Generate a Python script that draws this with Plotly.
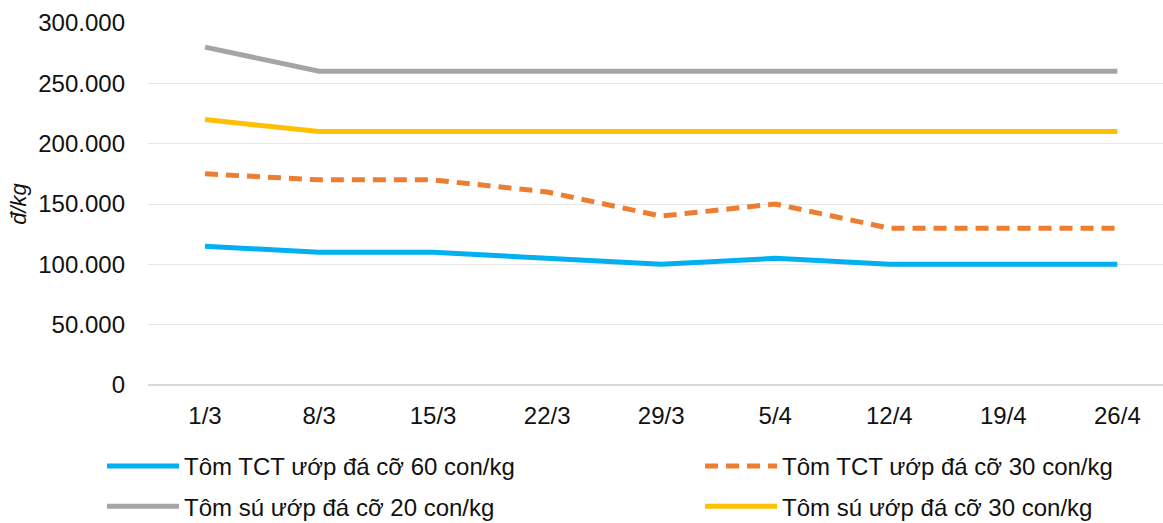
import plotly.graph_objects as go

categories = ["1/3", "8/3", "15/3", "22/3", "29/3", "5/4", "12/4", "19/4", "26/4"]
tct60 = [115000, 110000, 110000, 105000, 100000, 105000, 100000, 100000, 100000]
tct30 = [175000, 170000, 170000, 160000, 140000, 150000, 130000, 130000, 130000]
su20 = [280000, 260000, 260000, 260000, 260000, 260000, 260000, 260000, 260000]
su30 = [220000, 210000, 210000, 210000, 210000, 210000, 210000, 210000, 210000]
y_ticks = [0, 50000, 100000, 150000, 200000, 250000, 300000]
y_tick_labels = ["0", "50.000", "100.000", "150.000", "200.000", "250.000", "300.000"]

x = list(range(len(categories)))
fig = go.Figure()
fig.add_trace(go.Scatter(x=x, y=tct60, mode="lines", name="Tôm TCT ướp đá cỡ 60 con/kg",
                         line=dict(color="#00B0F0", width=5), legend="legend", legendgroup="a"))
fig.add_trace(go.Scatter(x=x, y=tct30, mode="lines", name="Tôm TCT ướp đá cỡ 30 con/kg",
                         line=dict(color="#ED7D31", width=5, dash="13px,8px"), legend="legend2", legendgroup="b"))
fig.add_trace(go.Scatter(x=x, y=su20, mode="lines", name="Tôm sú ướp đá cỡ 20 con/kg",
                         line=dict(color="#A5A5A5", width=5), legend="legend", legendgroup="c"))
fig.add_trace(go.Scatter(x=x, y=su30, mode="lines", name="Tôm sú ướp đá cỡ 30 con/kg",
                         line=dict(color="#FFC000", width=5), legend="legend2", legendgroup="d"))

font = "Liberation Sans, Arial, sans-serif"
leg_common = dict(orientation="v", yanchor="top", xanchor="left", y=-0.163,
                  tracegroupgap=6, font=dict(size=24, family=font, color="#111111"),
                  itemwidth=72, bgcolor="rgba(0,0,0,0)", traceorder="grouped")
fig.update_layout(
    width=1163, height=523,
    margin=dict(l=148, r=0, t=23, b=138, autoexpand=False),
    paper_bgcolor="white", plot_bgcolor="white",
    font=dict(family=font, size=24, color="#111111"),
    xaxis=dict(range=[-0.5, 8.40], tickmode="array", tickvals=x, ticktext=categories,
               showgrid=False, zeroline=False, showline=False, ticks="",
               ticklabelstandoff=14, automargin=False),
    yaxis=dict(range=[0, 300000], tickmode="array", tickvals=y_ticks, ticktext=y_tick_labels,
               showgrid=True, gridcolor="#E6E6E6", gridwidth=1, zeroline=True,
               zerolinecolor="#D9D9D9", zerolinewidth=2, ticks="", ticklabelstandoff=22,
               automargin=False,
               title=dict(text="<i>đ/kg</i>", standoff=5, font=dict(size=22))),
    showlegend=True,
    legend=dict(x=-0.0453, **leg_common),
    legend2=dict(x=0.5439, **leg_common),
)
fig.write_html("out.html", config={"displayModeBar": False},
               post_script="document.body.style.margin='0';document.body.style.overflow='hidden';")
